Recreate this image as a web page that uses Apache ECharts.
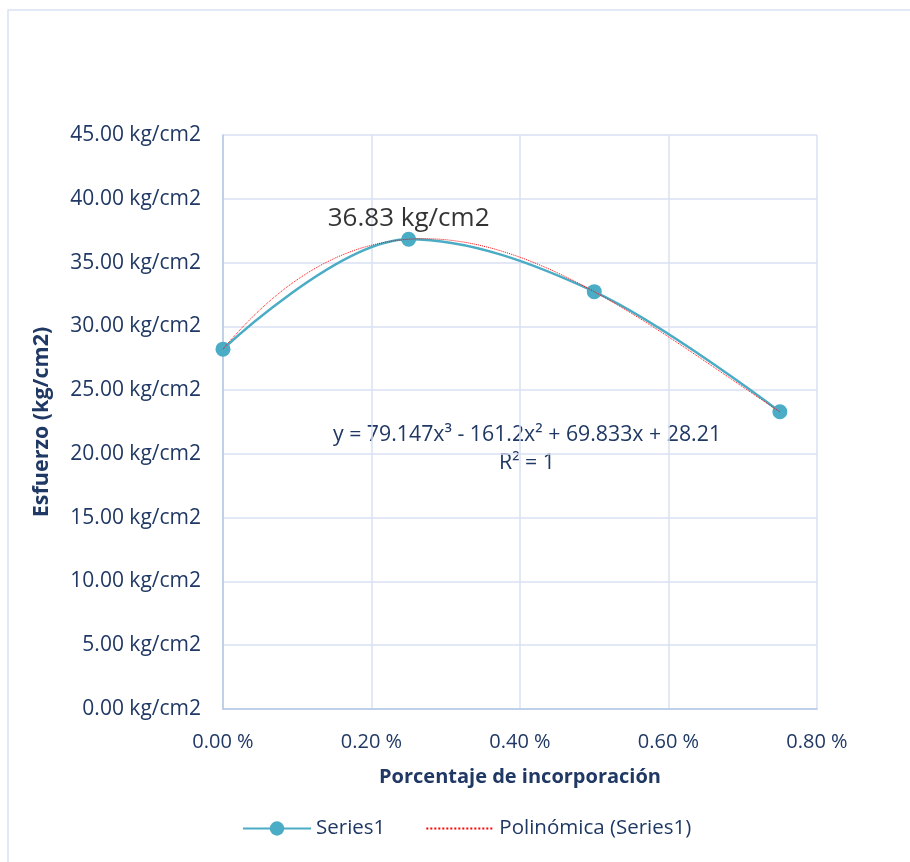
<!DOCTYPE html>
<html><head><meta charset="utf-8">
<script src="https://cdn.jsdelivr.net/npm/echarts@6/dist/echarts.min.js"></script>
<style>html,body{margin:0;padding:0;background:#fff}#c{width:910px;height:862px}</style>
</head><body><div id="c"></div>
<script>
const xValues = [0, 0.25, 0.5, 0.75];
const yValues = [28.21, 36.83, 32.72, 23.30];
const trendCoefs = [79.147, -161.2, 69.833, 28.21]; // y = a x^3 + b x^2 + c x + d (from chart equation)
const trendText = 'y = 79.147x³ - 161.2x² + 69.833x + 28.21';
const r2Text = 'R² = 1';
const labelText = '36.83 kg/cm2';
const seriesName = 'Series1';
const trendName = 'Polinómica (Series1)';
const xTitle = 'Porcentaje de incorporación';
const yTitle = 'Esfuerzo (kg/cm2)';

const FONT = 'Open Sans';
const TXT = '#203864';
const trend = [];
for (let i = 0; i <= 150; i++) {
  const x = 0.75 * i / 150;
  const [a,b,c,d] = trendCoefs;
  trend.push([x, a*x*x*x + b*x*x + c*x + d]);
}
const chart = echarts.init(document.getElementById('c'));
chart.setOption({
  animation: false,
  textStyle: {fontFamily: FONT},
  grid: {left: 223, right: 93, top: 135, bottom: 153},
  xAxis: {
    type: 'value', min: 0, max: 0.8, interval: 0.2,
    name: xTitle, nameLocation: 'middle', nameGap: 58,
    nameTextStyle: {color: TXT, fontSize: 20, fontWeight: 'bold', fontFamily: FONT},
    axisLine: {lineStyle: {color: '#B4C7E7', width: 1.5}},
    axisTick: {show: false},
    axisLabel: {color: TXT, fontSize: 20, margin: 23, formatter: v => v.toFixed(2) + ' %'},
    splitLine: {lineStyle: {color: '#D9E1F2', width: 1.5}}
  },
  yAxis: {
    type: 'value', min: 0, max: 45, interval: 5,
    name: yTitle, nameLocation: 'middle', nameGap: 170, nameRotate: 90,
    nameTextStyle: {color: TXT, fontSize: 21.5, fontWeight: 'bold', fontFamily: FONT},
    axisLine: {show: true, lineStyle: {color: '#B4C7E7', width: 1.5}},
    axisTick: {show: false},
    axisLabel: {color: TXT, fontSize: 21, margin: 22, formatter: v => v.toFixed(2) + ' kg/cm2'},
    splitLine: {lineStyle: {color: '#D9E1F2', width: 1.5}}
  },
  legend: {
    bottom: 18, left: 237, itemGap: 40, itemWidth: 68, itemHeight: 18,
    textStyle: {color: TXT, fontSize: 20.5, fontFamily: FONT},
    data: [seriesName, {name: trendName, itemStyle: {opacity: 0}}]
  },
  graphic: [
    {type: 'rect', shape: {x: 8, y: 10, width: 920, height: 880}, style: {fill: 'none', stroke: '#D9E1F2', lineWidth: 1.5}, silent: true},
    {type: 'text', x: 527, y: 435, style: {text: trendText, fill: TXT, font: '21.3px "' + FONT + '"', textAlign: 'center', textVerticalAlign: 'middle'}},
    {type: 'text', x: 527, y: 463, style: {text: r2Text, fill: TXT, font: '21.3px "' + FONT + '"', textAlign: 'center', textVerticalAlign: 'middle'}}
  ],
  series: [
    {
      name: seriesName, type: 'line', smooth: 0.35,
      data: xValues.map((x, i) => [x, yValues[i]]),
      symbol: 'circle', symbolSize: 15,
      itemStyle: {color: '#4BACC6'},
      lineStyle: {color: '#4BACC6', width: 2.5},
      label: {show: false},
      z: 2
    },
    {
      name: trendName, type: 'line', showSymbol: false, symbol: 'none',
      data: trend,
      lineStyle: {color: '#FF0000', width: 1, type: 'dotted'},
      itemStyle: {color: '#FF0000'},
      z: 3
    },
    {
      type: 'scatter', silent: true, symbolSize: 0,
      data: [[xValues[1], yValues[1]]],
      label: {show: true, position: 'top', distance: 8, formatter: labelText, color: '#000', fontSize: 26, fontFamily: FONT}
    }
  ]
});
</script></body></html>
